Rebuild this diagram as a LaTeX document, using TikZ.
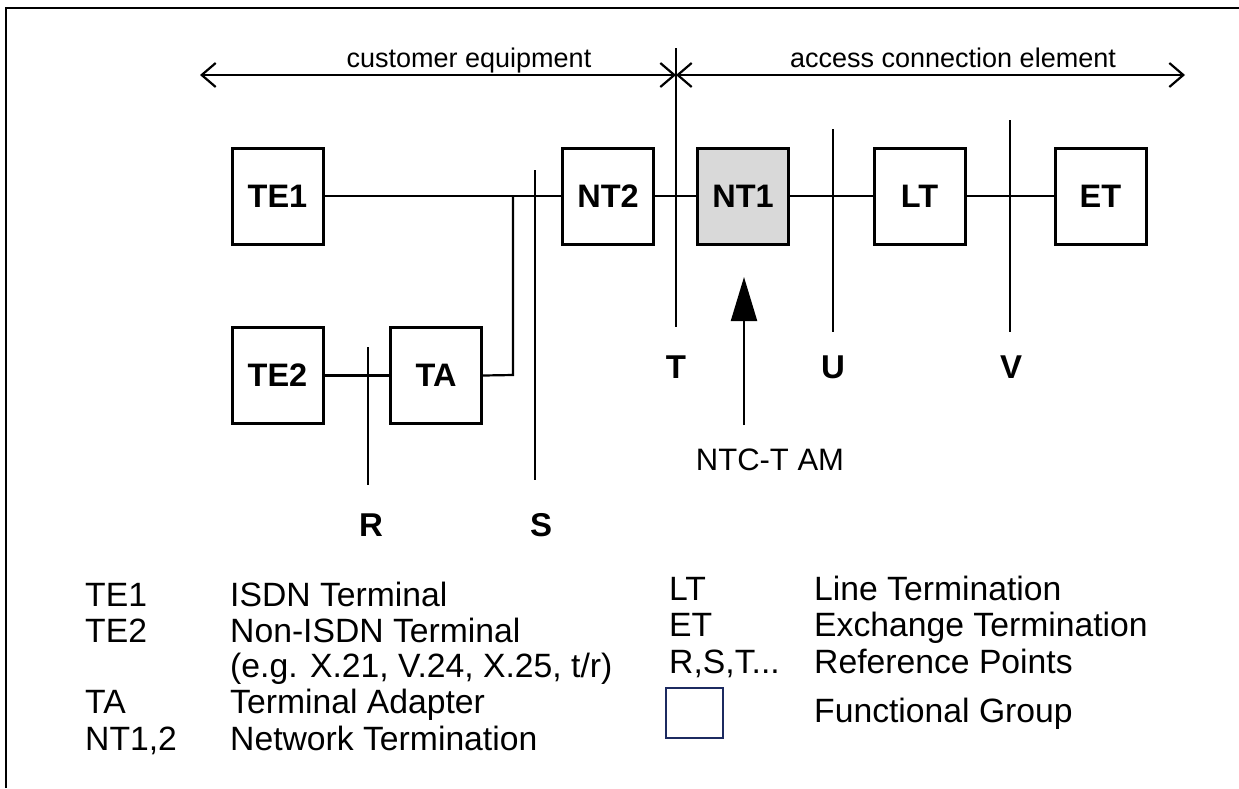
\documentclass[tikz,border=0pt]{standalone}
\usepackage{fontspec}
\setmainfont{Liberation Sans}
\usetikzlibrary{arrows.meta}
\definecolor{navy}{RGB}{28,42,96}
\definecolor{ntgray}{RGB}{217,217,217}
\begin{document}
\begin{tikzpicture}[x=1pt,y=-1pt,
  fg/.style={draw, line width=3pt, minimum width=91pt, minimum height=96pt, inner sep=0pt,
    font=\fontsize{32.5}{36}\selectfont\bfseries},
  wire/.style={line width=2.2pt},
  refl/.style={line width=2.2pt},
  reflab/.style={font=\fontsize{33}{36}\selectfont\bfseries, anchor=base, inner sep=0pt},
  span/.style={line width=2.2pt,
    {Straight Barb[length=14pt,width=24pt]}-{Straight Barb[length=14pt,width=24pt]}},
  leg/.style={font=\fontsize{33.7}{36}\selectfont, anchor=base west, inner sep=0pt},
  toplab/.style={font=\fontsize{27}{30}\selectfont, anchor=base, inner sep=0pt},
  frameline/.style={line width=2pt}
]
\useasboundingbox (0,0) rectangle (1239,788);

% frame
\coordinate (fbl) at (6,788);
\coordinate (ftl) at (6,8);
\coordinate (ftr) at (1239,8);
\draw[frameline] (fbl) -- (ftl) -- (ftr);

% top spans
\coordinate (ceL) at (200,75);
\coordinate (tX) at (676,75);
\coordinate (aceR) at (1185,75);
\draw[span] (ceL) -- (tX);
\draw[span] (tX) -- (aceR);
\node[toplab] (ce) at (469,67) {customer equipment};
\node[toplab] (ace) at (953,67) {access connection element};

% functional groups
\node[fg] (te1) at (277.5,196) {TE1};
\node[fg] (nt2) at (608,196) {NT2};
\node[fg, fill=ntgray] (nt1) at (743,196) {NT1};
\node[fg] (lt) at (919.5,196) {LT};
\node[fg] (et) at (1100.5,196) {ET};
\node[fg] (te2) at (277.5,375.5) {TE2};
\node[fg] (ta) at (436,375.5) {TA};

% wires
\coordinate (j) at (513,196);
\coordinate (tacorner) at (513,375);
\draw[wire] (te1.east) -- (nt2.west);
\draw[wire] (nt2.east) -- (nt1.west);
\draw[wire] (nt1.east) -- (lt.west);
\draw[wire] (lt.east) -- (et.west);
\draw[wire] (te2.east) -- (ta.west);
\draw[wire] (ta.east) -- (tacorner) -- (j);

% reference points
\coordinate (r1) at (368,347); \coordinate (r2) at (368,485);
\coordinate (s1) at (535,170); \coordinate (s2) at (535,480);
\coordinate (t1) at (676,48);  \coordinate (t2) at (676,327);
\coordinate (u1) at (833,129); \coordinate (u2) at (833,332);
\coordinate (v1) at (1010,120); \coordinate (v2) at (1010,332);
\draw[refl] (r1) -- (r2);
\draw[refl] (s1) -- (s2);
\draw[refl] (t1) -- (t2);
\draw[refl] (u1) -- (u2);
\draw[refl] (v1) -- (v2);
\node[reflab] (rlab) at (371,536) {R};
\node[reflab] (slab) at (541,536) {S};
\node[reflab] (tlab) at (676,378) {T};
\node[reflab] (ulab) at (833,378) {U};
\node[reflab] (vlab) at (1011,378) {V};

% NTC arrow
\coordinate (ntcb) at (744,425);
\coordinate (ntct) at (744,277);
\draw[line width=2.2pt, -{Triangle[length=44pt,width=26pt]}] (ntcb) -- (ntct);
\node[font=\fontsize{31}{34}\selectfont, anchor=base, inner sep=0pt] (ntc) at (770,470) {NTC-T AM};

% legend left
\node[leg] (l1a) at (85,606) {TE1};
\node[leg] (l1b) at (230,606) {ISDN Terminal};
\node[leg] (l2a) at (85,642) {TE2};
\node[leg] (l2b) at (230,642) {Non-ISDN Terminal};
\node[leg] (l3b) at (230,677) {(e.g. X.21, V.24, X.25, t/r)};
\node[leg] (l4a) at (85,713) {TA};
\node[leg] (l4b) at (230,713) {Terminal Adapter};
\node[leg] (l5a) at (85,750) {NT1,2};
\node[leg] (l5b) at (230,750) {Network Termination};

% legend right
\node[leg] (r1a) at (669,600) {LT};
\node[leg] (r1b) at (814,600) {Line Termination};
\node[leg] (r2a) at (669,636) {ET};
\node[leg] (r2b) at (814,636) {Exchange Termination};
\node[leg] (r3a) at (669,673) {R,S,T...};
\node[leg] (r3b) at (814,673) {Reference Points};
\node[draw=navy, line width=2.5pt, minimum width=57pt, minimum height=50pt, inner sep=0pt] (fgbox) at (694.5,713) {};
\node[leg] (r4b) at (814,722) {Functional Group};
\end{tikzpicture}
\end{document}
